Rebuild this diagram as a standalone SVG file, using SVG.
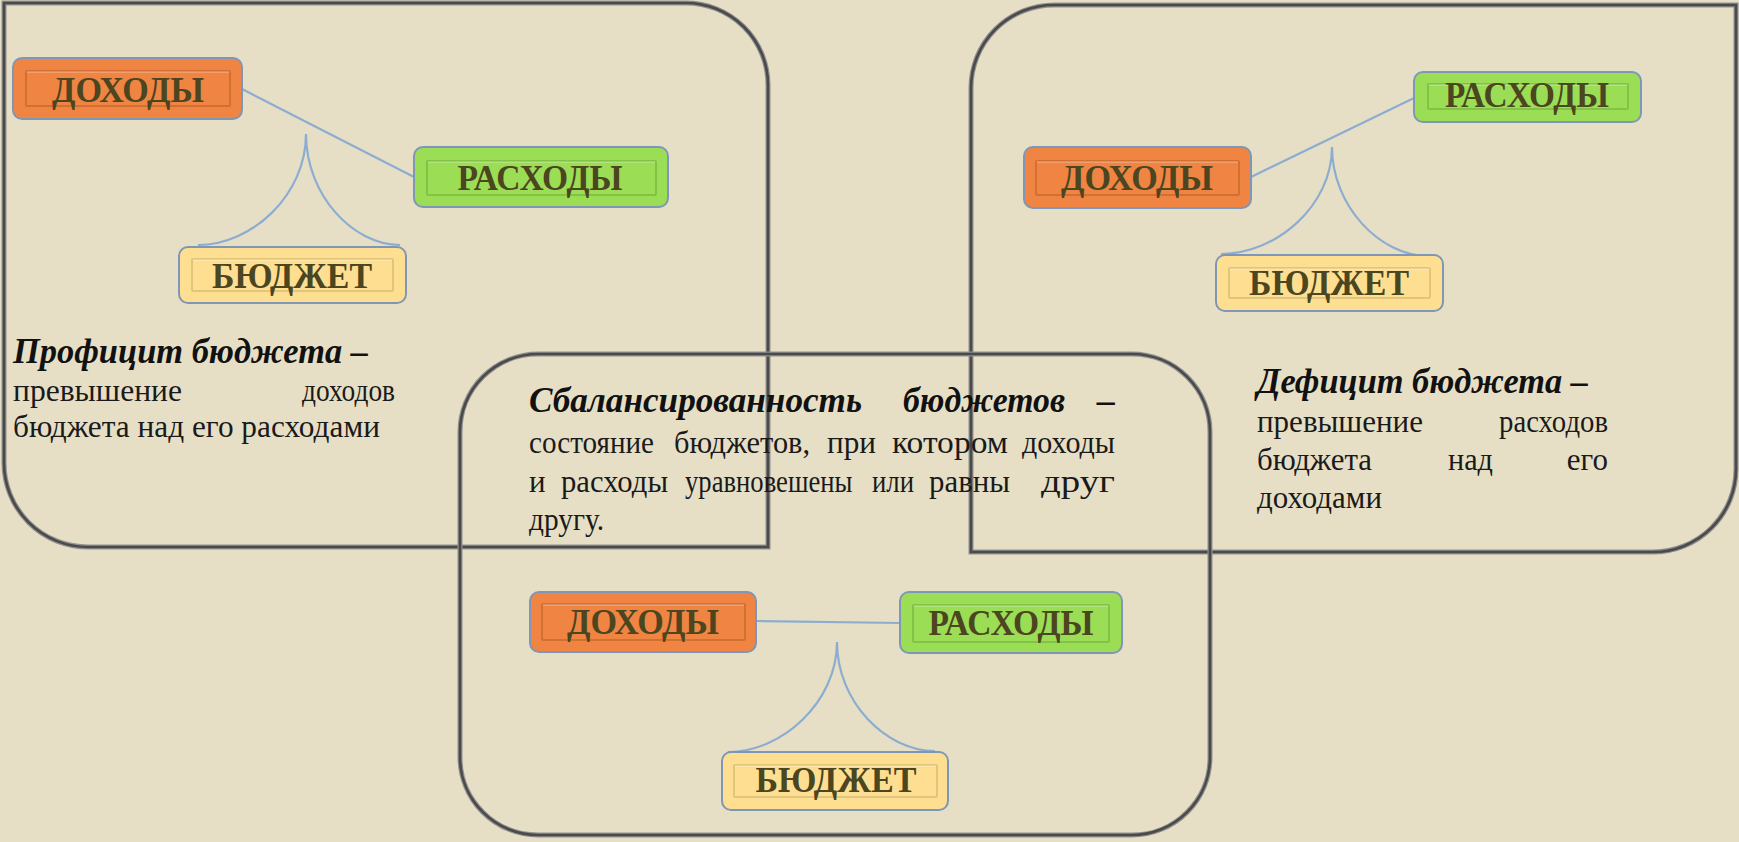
<svg xmlns="http://www.w3.org/2000/svg" width="1739" height="842" viewBox="0 0 1739 842">
<style>
.frame-outer{fill:none;stroke:#8f8f8f;stroke-width:5}
.frame-inner{fill:none;stroke:#4a4a4a;stroke-width:2.6}
.node{stroke:#7f97b6;stroke-width:2}
.orange{fill:#ef8443}
.green{fill:#9bdd55}
.yellow{fill:#fedf91}
.bev-o{fill:none;stroke:#d27034;stroke-width:2}
.bev-g{fill:none;stroke:#82c244;stroke-width:2}
.bev-y{fill:none;stroke:#e2c57c;stroke-width:2}
.hl{fill:none;stroke:#ffffff;stroke-opacity:0.45;stroke-width:1.2}
.lbl{font-family:"Liberation Serif","DejaVu Serif",serif;font-weight:bold;font-size:36px;fill:#4b4520;text-anchor:middle}
.head{font-family:"Liberation Serif","DejaVu Serif",serif;font-weight:bold;font-style:italic;font-size:36px;fill:#111111}
.body{font-family:"Liberation Serif","DejaVu Serif",serif;font-size:31px;fill:#1a1a1a}
.conn{fill:none;stroke:#8dadd0;stroke-width:2.2}
</style>
<rect width="1739" height="842" fill="#e6dfc6"/>

<g id="frames">
  <g id="frame-profit">
    <path class="frame-outer" d="M4,3 H686 A82,82 0 0 1 768,85 V547 H88 A84,84 0 0 1 4,463 Z"/>
    <path class="frame-inner" d="M4,3 H686 A82,82 0 0 1 768,85 V547 H88 A84,84 0 0 1 4,463 Z"/>
  </g>
  <g id="frame-deficit">
    <path class="frame-outer" d="M1054,5 H1736 V469 A83,83 0 0 1 1653,552 H971 V88 A83,83 0 0 1 1054,5 Z"/>
    <path class="frame-inner" d="M1054,5 H1736 V469 A83,83 0 0 1 1653,552 H971 V88 A83,83 0 0 1 1054,5 Z"/>
  </g>
  <g id="frame-balance">
    <rect class="frame-outer" x="460" y="354" width="750" height="481" rx="78" ry="78"/>
    <rect class="frame-inner" x="460" y="354" width="750" height="481" rx="78" ry="78"/>
  </g>
</g>

<g id="connectors">
  <path class="conn" d="M242,89 L414,177"/>
  <path class="conn" d="M198,245 C252,245 306,195 306,134 C306,195 353,245 400,245"/>
  <path class="conn" d="M1251,177 L1414,98"/>
  <path class="conn" d="M1221,254 C1276,254 1332,206 1332,147 C1332,206 1380,256 1428,256"/>
  <path class="conn" d="M757,621 L900,623"/>
  <path class="conn" d="M728,752 C782,752 837,702 837,642 C837,702 886,751 935,751"/>
</g>

<g id="node-profit-income">
  <rect class="node orange" x="13" y="58" width="229" height="61" rx="9"/>
  <rect class="bev-o" x="26" y="71" width="204" height="35" rx="1"/>
  <path class="hl" d="M27,72 H229"/>
  <text class="lbl" x="128" y="102" textLength="152" lengthAdjust="spacingAndGlyphs">ДОХОДЫ</text>
</g>
<g id="node-profit-expense">
  <rect class="node green" x="414" y="147" width="254" height="60" rx="9"/>
  <rect class="bev-g" x="427" y="161" width="229" height="34" rx="1"/>
  <path class="hl" d="M428,162 H655"/>
  <text class="lbl" x="540" y="190" textLength="165" lengthAdjust="spacingAndGlyphs">РАСХОДЫ</text>
</g>
<g id="node-profit-budget">
  <rect class="node yellow" x="179" y="247" width="227" height="56" rx="9"/>
  <rect class="bev-y" x="192" y="259" width="201" height="32" rx="1"/>
  <path class="hl" d="M193,260 H392"/>
  <text class="lbl" x="292" y="288" textLength="160" lengthAdjust="spacingAndGlyphs">БЮДЖЕТ</text>
</g>

<g id="node-deficit-expense">
  <rect class="node green" x="1414" y="72" width="227" height="50" rx="9"/>
  <rect class="bev-g" x="1428" y="84" width="200" height="25" rx="1"/>
  <path class="hl" d="M1429,85 H1627"/>
  <text class="lbl" x="1527" y="107" textLength="164" lengthAdjust="spacingAndGlyphs">РАСХОДЫ</text>
</g>
<g id="node-deficit-income">
  <rect class="node orange" x="1024" y="147" width="227" height="61" rx="9"/>
  <rect class="bev-o" x="1036" y="161" width="203" height="34" rx="1"/>
  <path class="hl" d="M1037,162 H1238"/>
  <text class="lbl" x="1137" y="190" textLength="152" lengthAdjust="spacingAndGlyphs">ДОХОДЫ</text>
</g>
<g id="node-deficit-budget">
  <rect class="node yellow" x="1216" y="255" width="227" height="56" rx="9"/>
  <rect class="bev-y" x="1229" y="268" width="201" height="30" rx="1"/>
  <path class="hl" d="M1230,269 H1429"/>
  <text class="lbl" x="1329" y="295" textLength="160" lengthAdjust="spacingAndGlyphs">БЮДЖЕТ</text>
</g>

<g id="node-balance-income">
  <rect class="node orange" x="530" y="592" width="226" height="60" rx="9"/>
  <rect class="bev-o" x="542" y="604" width="203" height="36" rx="1"/>
  <path class="hl" d="M543,605 H744"/>
  <text class="lbl" x="643" y="634" textLength="152" lengthAdjust="spacingAndGlyphs">ДОХОДЫ</text>
</g>
<g id="node-balance-expense">
  <rect class="node green" x="900" y="592" width="222" height="61" rx="9"/>
  <rect class="bev-g" x="913" y="605" width="196" height="37" rx="1"/>
  <path class="hl" d="M914,606 H1108"/>
  <text class="lbl" x="1011" y="635" textLength="165" lengthAdjust="spacingAndGlyphs">РАСХОДЫ</text>
</g>
<g id="node-balance-budget">
  <rect class="node yellow" x="722" y="752" width="226" height="58" rx="9"/>
  <rect class="bev-y" x="734" y="765" width="203" height="32" rx="1"/>
  <path class="hl" d="M735,766 H936"/>
  <text class="lbl" x="836" y="792" textLength="161" lengthAdjust="spacingAndGlyphs">БЮДЖЕТ</text>
</g>

<g id="text-profit">
  <text class="head" x="13" y="363" textLength="355" lengthAdjust="spacingAndGlyphs">Профицит бюджета –</text>
  <text class="body" x="13" y="401" textLength="169" lengthAdjust="spacingAndGlyphs">превышение</text>
  <text class="body" x="302" y="401" textLength="93" lengthAdjust="spacingAndGlyphs">доходов</text>
  <text class="body" x="13" y="437" textLength="367" lengthAdjust="spacingAndGlyphs">бюджета над его расходами</text>
</g>

<g id="text-balance">
  <text class="head" x="529" y="412" textLength="333" lengthAdjust="spacingAndGlyphs">Сбалансированность</text>
  <text class="head" x="903" y="412" textLength="162" lengthAdjust="spacingAndGlyphs">бюджетов</text>
  <text class="head" x="1115" y="412" text-anchor="end">–</text>
  <text class="body" x="529" y="453" textLength="125" lengthAdjust="spacingAndGlyphs">состояние</text>
  <text class="body" x="674" y="453" textLength="136" lengthAdjust="spacingAndGlyphs">бюджетов,</text>
  <text class="body" x="827" y="453" textLength="49" lengthAdjust="spacingAndGlyphs">при</text>
  <text class="body" x="892" y="453" textLength="116" lengthAdjust="spacingAndGlyphs">котором</text>
  <text class="body" x="1022" y="453" textLength="93" lengthAdjust="spacingAndGlyphs">доходы</text>
  <text class="body" x="529" y="492">и</text>
  <text class="body" x="561" y="492" textLength="107" lengthAdjust="spacingAndGlyphs">расходы</text>
  <text class="body" transform="matrix(0.86 0 0 1 685 492)">уравновешены</text>
  <text class="body" x="872" y="492" textLength="42" lengthAdjust="spacingAndGlyphs">или</text>
  <text class="body" x="929" y="492" textLength="81" lengthAdjust="spacingAndGlyphs">равны</text>
  <text class="body" x="1041" y="492" textLength="74" lengthAdjust="spacingAndGlyphs">друг</text>
  <text class="body" x="529" y="530" textLength="75" lengthAdjust="spacingAndGlyphs">другу.</text>
</g>

<g id="text-deficit">
  <text class="head" x="1257" y="393" textLength="331" lengthAdjust="spacingAndGlyphs">Дефицит бюджета –</text>
  <text class="body" x="1257" y="432" textLength="166" lengthAdjust="spacingAndGlyphs">превышение</text>
  <text class="body" x="1499" y="432" textLength="109" lengthAdjust="spacingAndGlyphs">расходов</text>
  <text class="body" x="1257" y="470" textLength="115" lengthAdjust="spacingAndGlyphs">бюджета</text>
  <text class="body" x="1448" y="470" textLength="45" lengthAdjust="spacingAndGlyphs">над</text>
  <text class="body" x="1608" y="470" text-anchor="end">его</text>
  <text class="body" x="1257" y="508" textLength="125" lengthAdjust="spacingAndGlyphs">доходами</text>
</g>
</svg>
